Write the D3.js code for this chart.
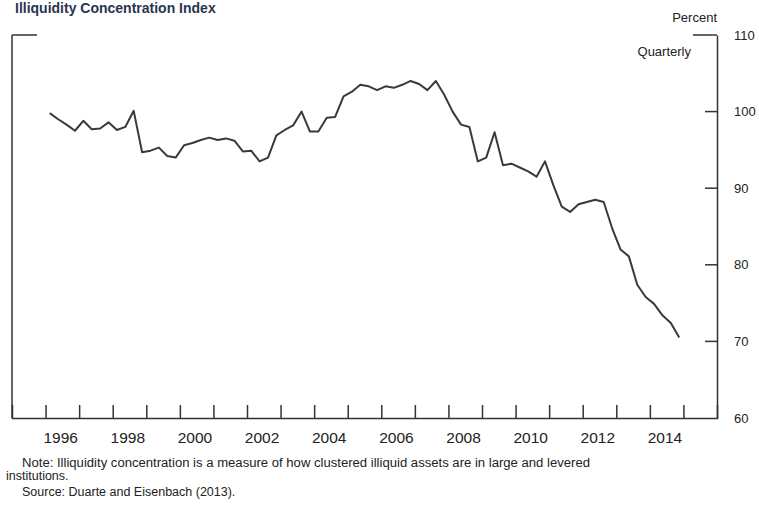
<!DOCTYPE html>
<html><head><meta charset="utf-8">
<script src="https://cdn.jsdelivr.net/npm/d3@7"></script>
<style>body{margin:0;background:#fff;}svg{display:block;font-family:"Liberation Sans",Arial,sans-serif;}</style>
</head><body>
<script>
const years = [1996,1997,1998,1999,2000,2001,2002,2003,2004,2005,2006,2007,2008,2009,2010,2011,2012,2013,2014];
const quarterlyValues = [
  99.8, 99.0, 98.3, 97.5,
  98.8, 97.7, 97.8, 98.6,
  97.6, 98.0, 100.1, 94.7,
  94.9, 95.3, 94.2, 94.0,
  95.6, 95.9, 96.3, 96.6,
  96.3, 96.5, 96.2, 94.8,
  94.9, 93.5, 94.0, 96.9,
  97.6, 98.2, 100.0, 97.4,
  97.4, 99.2, 99.3, 102.0,
  102.6, 103.5, 103.3, 102.8,
  103.3, 103.1, 103.5, 104.0,
  103.6, 102.8, 104.0, 102.2,
  100.0, 98.3, 98.0, 93.5,
  94.0, 97.3, 93.0, 93.2,
  92.7, 92.2, 91.5, 93.5,
  90.4, 87.6, 86.9, 87.9,
  88.2, 88.5, 88.2, 84.8,
  82.0, 81.1, 77.4, 75.8,
  74.9, 73.4, 72.4, 70.5
];
const yTicks = [60,70,80,90,100,110];
const xLabelYears = [1996,1998,2000,2002,2004,2006,2008,2010,2012,2014];
const xTickYears = d3.range(1996, 2016);

const data = quarterlyValues.map((v,i)=>({t: years[0] + Math.floor(i/4) + ((i%4)+0.5)/4, v}));

const W=759,H=510;
const L=12,R=717,T=35,B=418;
const svg=d3.select("body").append("svg").attr("width",W).attr("height",H);
const x=d3.scaleLinear().domain([1995,2016]).range([L,R]);
const y=d3.scaleLinear().domain([60,110]).range([B,T]);
const axisColor="#333";

// title (mostly cropped at the top in the original; kept fully visible here)
svg.append("text").attr("x",15).attr("y",13).attr("font-size",14).attr("font-weight","bold")
  .attr("fill","#2a3550").text("Illiquidity Concentration Index");

// frame: left, bottom, right axis lines and short top segments
svg.append("line").attr("x1",L).attr("x2",L).attr("y1",T).attr("y2",B).attr("stroke",axisColor).attr("stroke-width",1.5);
svg.append("line").attr("x1",L).attr("x2",L+25).attr("y1",T).attr("y2",T).attr("stroke",axisColor).attr("stroke-width",1.5);
svg.append("line").attr("x1",R-24).attr("x2",R).attr("y1",T).attr("y2",T).attr("stroke",axisColor).attr("stroke-width",1.5);

// right axis
const yAxis=d3.axisRight(y).tickValues(yTicks).tickSize(0).tickPadding(17);
const gy=svg.append("g").attr("transform",`translate(${R},0)`).call(yAxis);
gy.select(".domain").attr("stroke",axisColor).attr("stroke-width",1.5);
gy.selectAll("text").attr("font-size",13).attr("fill","#222").attr("font-family","Liberation Sans, Arial, sans-serif");
svg.selectAll(".ytick").data(yTicks.filter(d=>d>60&&d<110)).enter().append("line")
  .attr("x1",R-12).attr("x2",R).attr("y1",d=>y(d)).attr("y2",d=>y(d)).attr("stroke",axisColor).attr("stroke-width",1.5);

// bottom axis
const xAxis=d3.axisBottom(x).tickValues(xTickYears).tickSize(-13).tickFormat("");
const gx=svg.append("g").attr("transform",`translate(0,${B})`).call(xAxis);
gx.select(".domain").attr("stroke",axisColor).attr("stroke-width",1.5);
gx.selectAll(".tick line").attr("stroke",axisColor).attr("stroke-width",1.5);
svg.append("g").selectAll("text").data(xLabelYears).enter().append("text")
  .attr("x",d=>x(d+0.45)).attr("y",B+25).attr("text-anchor","middle")
  .attr("font-size",15.5).attr("fill","#222").text(d=>d);

// line
const line=d3.line().x(d=>x(d.t)).y(d=>y(d.v));
svg.append("path").datum(data).attr("d",line).attr("fill","none")
  .attr("stroke","#3a3a3a").attr("stroke-width",2).attr("stroke-linejoin","round");

// labels
svg.append("text").attr("x",R).attr("y",22).attr("text-anchor","end").attr("font-size",13).attr("fill","#222").text("Percent");
svg.append("text").attr("x",691).attr("y",56).attr("text-anchor","end").attr("font-size",13).attr("fill","#222").text("Quarterly");

// notes
const notes=[
  {x:22,y:467,t:"Note: Illiquidity concentration is a measure of how clustered illiquid assets are in large and levered",w:568},
  {x:6,y:480,t:"institutions.",w:null},
  {x:22,y:496,t:"Source: Duarte and Eisenbach (2013).",w:null}
];
const nt=svg.append("g").selectAll("text").data(notes).enter().append("text")
  .attr("x",d=>d.x).attr("y",d=>d.y).attr("font-size",12.5).attr("fill","#222").text(d=>d.t);
nt.filter(d=>d.w).attr("textLength",d=>d.w).attr("lengthAdjust","spacingAndGlyphs");
</script>
</body></html>
